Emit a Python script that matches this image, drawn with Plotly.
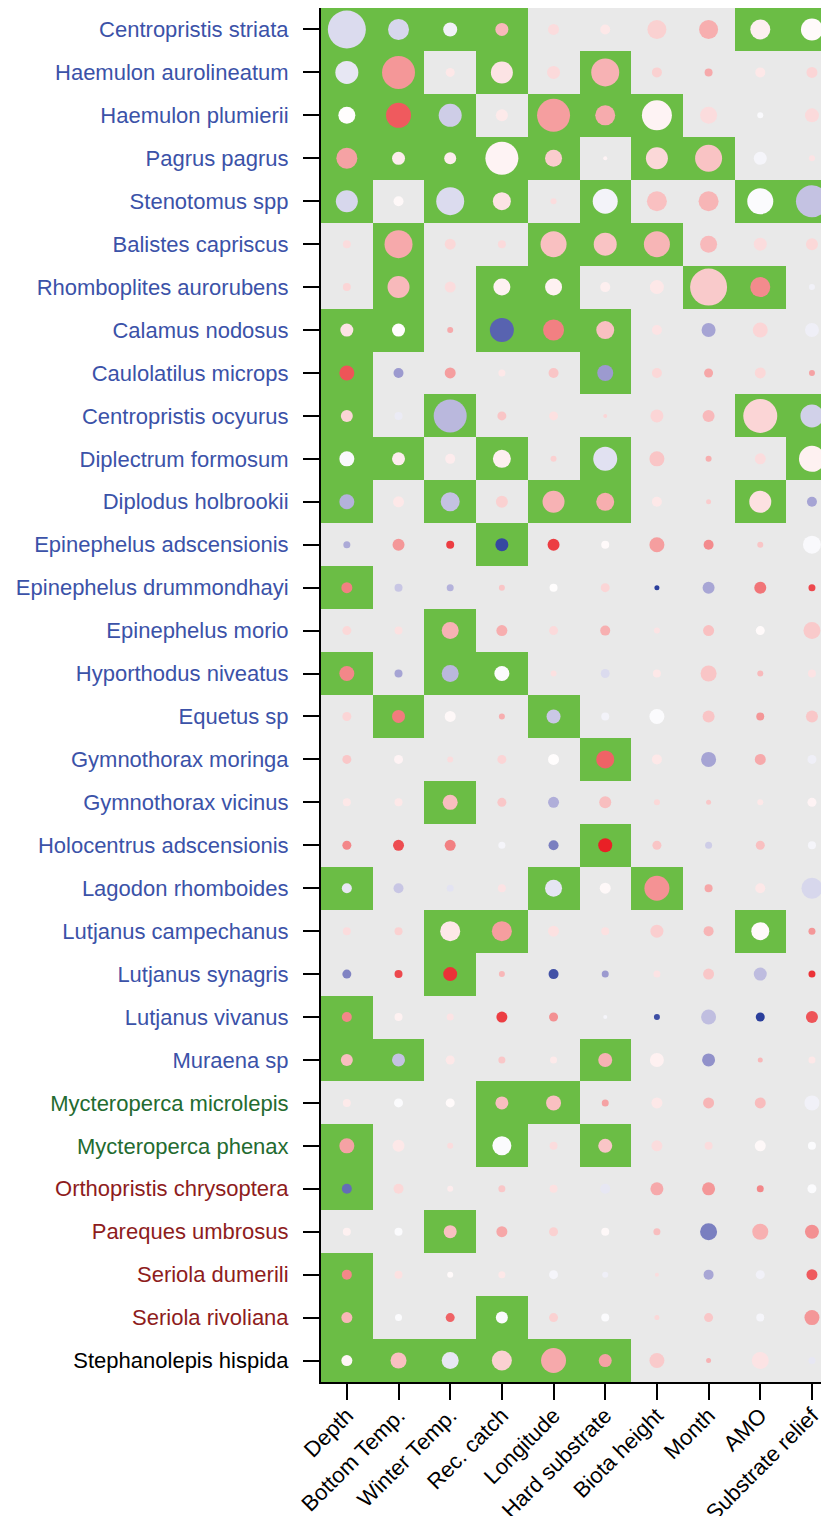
import numpy as np
import plotly.graph_objects as go

species = [
    "Centropristis striata", "Haemulon aurolineatum", "Haemulon plumierii", "Pagrus pagrus",
    "Stenotomus spp", "Balistes capriscus", "Rhomboplites aurorubens", "Calamus nodosus",
    "Caulolatilus microps", "Centropristis ocyurus", "Diplectrum formosum", "Diplodus holbrookii",
    "Epinephelus adscensionis", "Epinephelus drummondhayi", "Epinephelus morio", "Hyporthodus niveatus",
    "Equetus sp", "Gymnothorax moringa", "Gymnothorax vicinus", "Holocentrus adscensionis",
    "Lagodon rhomboides", "Lutjanus campechanus", "Lutjanus synagris", "Lutjanus vivanus",
    "Muraena sp", "Mycteroperca microlepis", "Mycteroperca phenax", "Orthopristis chrysoptera",
    "Pareques umbrosus", "Seriola dumerili", "Seriola rivoliana", "Stephanolepis hispida",
]
label_colors = ["#3b52a8"] * 25 + ["#236b30"] * 2 + ["#8e1c1c"] * 4 + ["#000000"]

variables = ["Depth", "Bottom Temp.", "Winter Temp.", "Rec. catch", "Longitude",
             "Hard substrate", "Biota height", "Month", "AMO", "Substrate relief"]

# 1 = significant (green cell), 0 = not significant (grey cell)
significant = [
    [1,1,1,1,0,0,0,0,1,1],
    [1,1,0,1,0,1,0,0,0,0],
    [1,1,1,0,1,1,1,0,0,0],
    [1,1,1,1,1,0,1,1,0,0],
    [1,0,1,1,0,1,0,0,1,1],
    [0,1,0,0,1,1,1,0,0,0],
    [0,1,0,1,1,0,0,1,1,0],
    [1,1,0,1,1,1,0,0,0,0],
    [1,0,0,0,0,1,0,0,0,0],
    [1,0,1,0,0,0,0,0,1,1],
    [1,1,0,1,0,1,0,0,0,1],
    [1,0,1,0,1,1,0,0,1,0],
    [0,0,0,1,0,0,0,0,0,0],
    [1,0,0,0,0,0,0,0,0,0],
    [0,0,1,0,0,0,0,0,0,0],
    [1,0,1,1,0,0,0,0,0,0],
    [0,1,0,0,1,0,0,0,0,0],
    [0,0,0,0,0,1,0,0,0,0],
    [0,0,1,0,0,0,0,0,0,0],
    [0,0,0,0,0,1,0,0,0,0],
    [1,0,0,0,1,0,1,0,0,0],
    [0,0,1,1,0,0,0,0,1,0],
    [0,0,1,0,0,0,0,0,0,0],
    [1,0,0,0,0,0,0,0,0,0],
    [1,1,0,0,0,1,0,0,0,0],
    [0,0,0,1,1,0,0,0,0,0],
    [1,0,0,1,0,1,0,0,0,0],
    [1,0,0,0,0,0,0,0,0,0],
    [0,0,1,0,0,0,0,0,0,0],
    [1,0,0,0,0,0,0,0,0,0],
    [1,0,0,1,0,0,0,0,0,0],
    [1,1,1,1,1,1,0,0,0,0],
]

# circle diameters (px)
sizes = [
    [38,21,14,13,11,10,19,19,20,22],
    [23,33,9,22,13,28,10,8,10,11],
    [17,25,23,12,33,20,30,17,6,14],
    [21,13,12,33,17,4,22,27,13,6],
    [22,10,28,18,6,25,20,20,26,32],
    [8,28,11,8,26,23,26,17,13,12],
    [8,22,11,17,17,10,14,37,20,6],
    [13,13,6,24,21,18,10,14,15,14],
    [15,10,11,7,10,16,10,9,11,6],
    [12,8,33,9,9,4,13,12,34,23],
    [15,13,10,18,6,24,15,6,11,26],
    [15,11,19,12,22,18,10,5,22,10],
    [7,12,8,13,12,8,15,10,6,18],
    [11,8,7,6,8,9,5,12,12,7],
    [9,8,17,11,9,10,6,11,9,17],
    [15,8,17,15,6,9,8,16,6,8],
    [9,13,11,6,14,8,15,12,8,12],
    [9,9,6,9,11,18,10,15,11,9],
    [8,8,15,9,11,12,6,5,6,9],
    [9,11,11,7,10,14,9,7,9,8],
    [10,10,7,8,17,11,25,8,10,21],
    [8,8,20,20,11,8,13,10,18,7],
    [9,8,14,6,10,7,7,11,13,7],
    [10,8,7,11,9,4,6,15,9,12],
    [12,13,9,7,7,14,14,13,5,7],
    [8,9,9,13,15,7,11,11,11,15],
    [15,12,6,19,8,14,11,8,11,8],
    [10,10,6,7,8,10,13,13,7,9],
    [8,8,13,11,9,8,7,17,16,14],
    [10,8,6,7,9,6,4,10,9,11],
    [11,7,9,12,9,8,5,9,8,15],
    [11,16,17,20,25,13,15,5,17,7],
]

# effect direction / strength (-1 blue ... +1 red)
effects = [
    [-0.18,-0.2,-0.07,0.3,0.15,0.1,0.2,0.35,0.07,0.02],
    [-0.12,0.45,0.1,0.12,0.16,0.33,0.2,0.37,0.1,0.18],
    [0.01,0.72,-0.25,0.09,0.42,0.36,0.05,0.15,-0.03,0.16],
    [0.4,0.08,0.08,0.05,0.22,0.05,0.17,0.26,-0.05,0.12],
    [-0.2,0.03,-0.18,0.12,0.15,-0.06,0.27,0.32,-0.02,-0.3],
    [0.15,0.37,0.17,0.16,0.27,0.26,0.32,0.3,0.15,0.17],
    [0.18,0.3,0.15,0.06,0.06,0.07,0.1,0.23,0.5,-0.07],
    [0.12,0.01,0.37,-0.8,0.55,0.27,0.12,-0.45,0.18,-0.08],
    [0.75,-0.5,0.42,0.1,0.25,-0.5,0.17,0.38,0.17,0.4],
    [0.18,-0.1,-0.35,0.25,0.13,0.18,0.18,0.3,0.18,-0.23],
    [-0.03,0.08,0.08,0.07,0.2,-0.15,0.25,0.35,0.15,0.06],
    [-0.38,0.1,-0.3,0.2,0.33,0.35,0.1,0.22,0.13,-0.45],
    [-0.42,0.45,0.85,-0.95,0.85,0.02,0.42,0.5,0.25,-0.03],
    [0.55,-0.28,-0.38,0.25,0.01,0.18,-1.0,-0.44,0.6,0.8],
    [0.17,0.13,0.33,0.35,0.16,0.34,0.12,0.27,0.02,0.23],
    [0.52,-0.45,-0.35,-0.02,0.13,-0.18,0.1,0.25,0.3,0.12],
    [0.18,0.57,0.03,0.35,-0.27,-0.06,-0.02,0.25,0.45,0.24],
    [0.24,0.05,0.15,0.18,0.01,0.68,0.1,-0.45,0.37,-0.08],
    [0.1,0.1,0.28,0.24,-0.4,0.28,0.17,0.24,0.1,0.05],
    [0.52,0.78,0.55,-0.05,-0.65,0.98,0.25,-0.25,0.27,-0.05],
    [-0.12,-0.28,-0.14,0.12,-0.13,0.03,0.47,0.38,0.1,-0.2],
    [0.15,0.2,0.1,0.42,0.13,0.13,0.21,0.32,0.02,0.45],
    [-0.62,0.8,0.9,0.31,-0.9,-0.5,0.12,0.24,-0.33,0.9],
    [0.52,0.06,0.12,0.85,0.48,-0.05,-0.92,-0.32,-1.0,0.75],
    [0.28,-0.3,0.1,0.24,0.09,0.33,0.06,-0.55,0.31,0.1],
    [0.09,-0.02,0.02,0.28,0.27,0.4,0.1,0.32,0.29,-0.07],
    [0.4,0.1,0.15,-0.02,0.15,0.25,0.15,0.15,0.03,-0.02],
    [-0.75,0.17,0.08,0.24,0.13,-0.12,0.37,0.45,0.52,-0.02],
    [0.06,-0.02,0.27,0.38,0.2,0.03,0.28,-0.65,0.34,0.48],
    [0.52,0.13,0.02,0.1,-0.05,-0.08,0.15,-0.44,-0.07,0.72],
    [0.31,-0.02,0.68,-0.02,0.2,-0.02,0.17,0.24,-0.05,0.45],
    [0.04,0.27,-0.12,0.2,0.37,0.4,0.23,0.33,0.12,-0.12],
]

n_rows, n_cols = len(species), len(variables)
xs = np.arange(n_cols)
ys = np.arange(n_rows)
X, Y = np.meshgrid(xs, ys)

fig = go.Figure()
fig.add_trace(go.Heatmap(
    z=significant, x=xs, y=ys,
    colorscale=[[0, "#e9e9e9"], [0.5, "#e9e9e9"], [0.5, "#6bbd45"], [1, "#6bbd45"]],
    zmin=0, zmax=1, showscale=False, hoverinfo="skip",
))
fig.add_trace(go.Scatter(
    x=X.ravel(), y=Y.ravel(), mode="markers",
    marker=dict(
        size=np.array(sizes).ravel(),
        color=np.array(effects).ravel(),
        cmin=-1, cmax=1,
        colorscale=[[0, "#2b3f9c"], [0.25, "#9c9acf"], [0.5, "#ffffff"],
                    [0.75, "#f38b8d"], [1, "#e91c22"]],
        line=dict(width=0), opacity=1,
    ),
    hoverinfo="skip", showlegend=False,
))

ticktext = [f'<span style="color:{c}">{s}</span>' for s, c in zip(species, label_colors)]

font = dict(family="Liberation Sans, Arial, sans-serif", size=22, color="#000000")
fig.update_layout(
    width=821, height=1508,
    margin=dict(l=313, r=0, t=0, b=134),
    paper_bgcolor="white", plot_bgcolor="#e9e9e9",
    font=font, showlegend=False,
    xaxis=dict(
        range=[-0.5, 9.33], tickmode="array", tickvals=list(xs), ticktext=variables,
        tickangle=-45, ticks="outside", ticklen=16, tickwidth=2, tickcolor="black",
        showline=True, linewidth=2, linecolor="black", mirror=True,
        showgrid=False, zeroline=False, automargin=False, tickfont=font,
        ticklabelstandoff=-6,
    ),
    yaxis=dict(
        range=[n_rows - 0.5, -0.5], tickmode="array", tickvals=list(ys), ticktext=ticktext,
        ticks="outside", ticklen=16, tickwidth=2, tickcolor="black",
        showline=True, linewidth=2, linecolor="black",
        showgrid=False, zeroline=False, automargin=False, tickfont=font,
        ticklabelstandoff=10,
    ),
)

fig.write_html("out.html")
